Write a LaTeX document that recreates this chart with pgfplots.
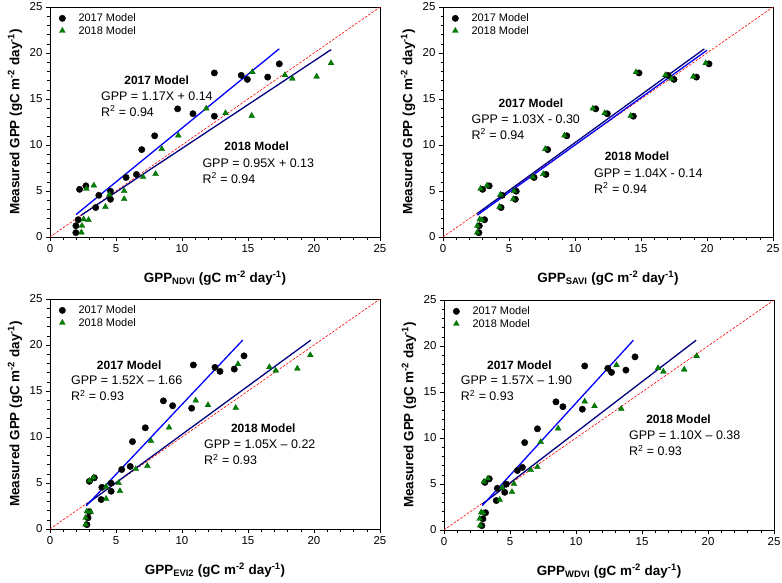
\documentclass[border=0pt]{standalone}
\usepackage{fontspec}
\setmainfont{Liberation Sans}
\usepackage{pgfplots}
\pgfplotsset{compat=1.18}
\definecolor{mygreen}{RGB}{0,128,0}
\definecolor{mynavy}{RGB}{0,0,128}
\definecolor{myblue}{RGB}{0,0,255}
\newcommand\tickfont{\fontsize{11.5}{13}\selectfont}
\newcommand\legfont{\fontsize{11}{12.5}\selectfont}
\newcommand\labfont{\fontsize{13.5}{16}\selectfont\bfseries}
\newcommand\ttlfont{\fontsize{12}{14}\selectfont\bfseries}
\newcommand\eqfont{\fontsize{12.5}{15}\selectfont}
\tikzset{
 eq/.style={font=\eqfont, anchor=west, inner sep=0pt},
 ttl/.style={font=\ttlfont, anchor=center, inner sep=0pt},
}
\pgfplotsset{
 panel/.style={
  scale only axis, width=330bp, height=230bp,
  xmin=0,xmax=25,ymin=0,ymax=25,
  xtick={0,5,10,15,20,25}, ytick={0,5,10,15,20,25},
  minor x tick num=4, minor y tick num=4,
  tick align=outside, tick pos=left,
  major tick length=4bp, minor tick length=2.5bp,
  every tick/.style={black, line width=0.6bp},
  axis line style={black, line width=0.8bp},
  tick label style={font=\tickfont},
  /pgf/number format/assume math mode=true,
  ylabel={Measured GPP (gC m\textsuperscript{-2} day\textsuperscript{-1})},
  label style={font=\labfont},
  ylabel style={at={(axis description cs:-0.106,0.5)}, anchor=center},
  xlabel style={at={(axis description cs:0.5,-0.178)}, anchor=center},
  legend style={at={(0.015,0.985)}, anchor=north west, draw=none, fill=none, font=\legfont, row sep=-1pt, inner sep=1pt},
  legend cell align=left,
 },
 c17/.style={only marks, mark=*, mark size=3.2bp, mark options={fill=black, draw=black},
   legend image code/.code={\path (0bp,0bp) (20bp,0bp); \draw[##1] plot coordinates {(6bp,0bp)};}},
 t18/.style={only marks, mark=triangle*, mark size=3.4bp, mark options={fill=mygreen, draw=mygreen!75!black, line width=0.3bp},
   legend image code/.code={\path (0bp,0bp) (20bp,0bp); \draw[##1] plot coordinates {(6bp,0bp)};}},
 l17/.style={myblue, line width=1.3bp, no marks, forget plot},
 l18/.style={mynavy, line width=1.3bp, no marks, forget plot},
 one/.style={red, dash pattern=on 2.5bp off 1.5bp, line width=0.6bp, no marks, forget plot},
}
\begin{document}
\begin{tikzpicture}
\useasboundingbox (0,0) rectangle (782bp,-583bp);
% ---------------- Panel 1: NDVI
\begin{axis}[panel, at={(50bp,-237bp)}, anchor=south west,
  xlabel={GPP\textsubscript{NDVI} (gC m\textsuperscript{-2} day\textsuperscript{-1})}]
\addplot[one] coordinates {(0,0) (25,25)};
\addplot[c17] coordinates {
(1.96,0.47) (1.96,1.22) (2.14,1.88) (2.24,5.18) (2.72,5.56) (3.70,4.53) (3.46,3.20)
(4.58,4.98) (4.58,4.10) (5.76,6.47) (6.55,6.80) (6.95,9.50) (7.93,11.00) (9.67,13.93)
(10.83,13.40) (12.45,17.83) (12.45,13.13) (14.49,17.57) (14.95,17.13) (16.49,17.38) (17.37,18.82)};
\addlegendentry{2017 Model}
\addplot[t18] coordinates {
(2.38,0.50) (2.42,1.22) (2.55,1.92) (2.92,1.85) (2.76,5.25) (3.32,5.60) (4.20,3.28)
(4.50,4.60) (5.62,5.00) (5.62,4.13) (7.05,6.52) (8.00,6.85) (8.47,9.57) (9.72,11.03)
(11.84,13.97) (13.30,13.47) (15.28,13.17) (15.33,17.92) (17.80,17.60) (18.36,17.22) (20.20,17.44) (21.29,18.90)};
\addlegendentry{2018 Model}
\addplot[l18] coordinates {(2.35,2.36) (21.30,20.37)};
\addplot[l17] coordinates {(1.97,2.44) (17.37,20.46)};
\node[ttl] at (axis cs:8.08,17.0) {2017 Model};
\node[eq] at (axis cs:3.86,15.3) {GPP = 1.17X + 0.14};
\node[eq] at (axis cs:3.86,13.7) {R\textsuperscript{2} = 0.94};
\node[ttl] at (axis cs:15.66,9.86) {2018 Model};
\node[eq] at (axis cs:11.54,8.04) {GPP = 0.95X + 0.13};
\node[eq] at (axis cs:11.54,6.41) {R\textsuperscript{2} = 0.94};
\end{axis}
% ---------------- Panel 2: SAVI
\begin{axis}[panel, at={(443bp,-237bp)}, anchor=south west,
  xlabel={GPP\textsubscript{SAVI} (gC m\textsuperscript{-2} day\textsuperscript{-1})}]
\addplot[one] coordinates {(0,0) (25,25)};
\addplot[c17] coordinates {
(2.72,0.47) (2.75,1.22) (3.15,1.88) (3.00,5.18) (3.50,5.56) (4.48,4.53) (4.40,3.20)
(5.55,4.98) (5.48,4.10) (6.90,6.47) (7.80,6.80) (7.93,9.50) (9.38,11.00) (11.57,13.93)
(12.45,13.40) (14.85,17.83) (14.42,13.13) (17.05,17.57) (17.50,17.13) (19.20,17.38) (20.15,18.82)};
\addlegendentry{2017 Model}
\addplot[t18] coordinates {
(2.60,0.50) (2.60,1.22) (2.78,1.92) (2.95,1.85) (2.85,5.25) (3.33,5.60) (4.28,3.28)
(4.35,4.60) (5.38,5.00) (5.32,4.13) (6.80,6.52) (7.60,6.85) (7.75,9.57) (9.20,11.03)
(11.35,13.97) (12.25,13.47) (14.22,13.17) (14.62,17.92) (16.85,17.60) (17.30,17.22) (18.97,17.44) (19.90,18.90)};
\addlegendentry{2018 Model}
\addplot[l18] coordinates {(2.60,2.56) (19.80,20.45)};
\addplot[l17] coordinates {(2.60,2.38) (20.00,20.30)};
\node[ttl] at (axis cs:6.66,14.5) {2017 Model};
\node[eq] at (axis cs:2.15,12.8) {GPP = 1.03X - 0.30};
\node[eq] at (axis cs:2.15,11.2) {R\textsuperscript{2} = 0.94};
\node[ttl] at (axis cs:14.7,8.77) {2018 Model};
\node[eq] at (axis cs:11.44,6.96) {GPP = 1.04X - 0.14};
\node[eq] at (axis cs:11.44,5.33) {R\textsuperscript{2} = 0.94};
\end{axis}
% ---------------- Panel 3: EVI2
\begin{axis}[panel, at={(50bp,-529bp)}, anchor=south west,
  xlabel={GPP\textsubscript{EVI2} (gC m\textsuperscript{-2} day\textsuperscript{-1})}]
\addplot[one] coordinates {(0,0) (25,25)};
\addplot[c17] coordinates {
(2.80,0.47) (2.88,1.22) (2.97,1.88) (2.98,5.18) (3.36,5.56) (3.93,4.53) (3.88,3.20)
(4.63,4.98) (4.63,4.10) (5.43,6.47) (6.08,6.80) (6.25,9.50) (7.22,11.00) (8.59,13.93)
(9.29,13.40) (10.86,17.83) (10.73,13.13) (12.50,17.57) (12.88,17.13) (13.96,17.38) (14.70,18.82)};
\addlegendentry{2017 Model}
\addplot[t18] coordinates {
(2.70,0.50) (2.70,1.22) (2.80,1.92) (3.08,1.85) (3.00,5.25) (3.30,5.60) (4.25,3.28)
(4.25,4.60) (5.20,5.00) (5.30,4.13) (6.50,6.52) (7.38,6.85) (7.65,9.57) (9.02,11.03)
(11.04,13.97) (11.97,13.47) (14.07,13.17) (14.24,17.92) (16.62,17.60) (17.10,17.22) (18.74,17.44) (19.72,18.90)};
\addlegendentry{2018 Model}
\addplot[l18] coordinates {(2.75,2.67) (19.75,20.52)};
\addplot[l17] coordinates {(2.75,2.52) (14.60,20.53)};
\node[ttl] at (axis cs:6.0,17.75) {2017 Model};
\node[eq] at (axis cs:1.59,16.16) {GPP = 1.52X -- 1.66};
\node[eq] at (axis cs:1.59,14.53) {R\textsuperscript{2} = 0.93};
\node[ttl] at (axis cs:16.16,10.98) {2018 Model};
\node[eq] at (axis cs:11.67,9.17) {GPP = 1.05X -- 0.22};
\node[eq] at (axis cs:11.67,7.54) {R\textsuperscript{2} = 0.93};
\end{axis}
% ---------------- Panel 4: WDVI
\begin{axis}[panel, at={(444bp,-530bp)}, anchor=south west,
  xlabel={GPP\textsubscript{WDVI} (gC m\textsuperscript{-2} day\textsuperscript{-1})}]
\addplot[one] coordinates {(0,0) (25,25)};
\addplot[c17] coordinates {
(2.87,0.47) (2.95,1.22) (3.15,1.88) (3.10,5.18) (3.43,5.56) (4.04,4.53) (3.96,3.20)
(4.72,4.98) (4.60,4.10) (5.56,6.47) (5.94,6.80) (6.11,9.50) (7.08,11.00) (8.48,13.93)
(9.01,13.40) (10.66,17.83) (10.48,13.13) (12.41,17.57) (12.69,17.13) (13.78,17.38) (14.47,18.82)};
\addlegendentry{2017 Model}
\addplot[t18] coordinates {
(2.75,0.50) (2.70,1.22) (2.82,1.92) (2.97,1.85) (3.03,5.25) (3.33,5.60) (4.22,3.28)
(4.40,4.60) (5.30,5.00) (5.15,4.13) (6.57,6.52) (7.08,6.85) (7.33,9.57) (8.65,11.03)
(10.66,13.97) (11.40,13.47) (13.43,13.17) (13.07,17.92) (16.22,17.60) (16.62,17.22) (18.20,17.44) (19.14,18.90)};
\addlegendentry{2018 Model}
\addplot[l18] coordinates {(2.90,2.81) (19.10,20.63)};
\addplot[l17] coordinates {(2.90,2.65) (14.35,20.63)};
\node[ttl] at (axis cs:5.71,17.86) {2017 Model};
\node[eq] at (axis cs:1.27,16.23) {GPP = 1.57X -- 1.90};
\node[eq] at (axis cs:1.27,14.6) {R\textsuperscript{2} = 0.93};
\node[ttl] at (axis cs:17.77,12.07) {2018 Model};
\node[eq] at (axis cs:14.01,10.25) {GPP = 1.10X -- 0.38};
\node[eq] at (axis cs:14.01,8.62) {R\textsuperscript{2} = 0.93};
\end{axis}
\end{tikzpicture}
\end{document}
